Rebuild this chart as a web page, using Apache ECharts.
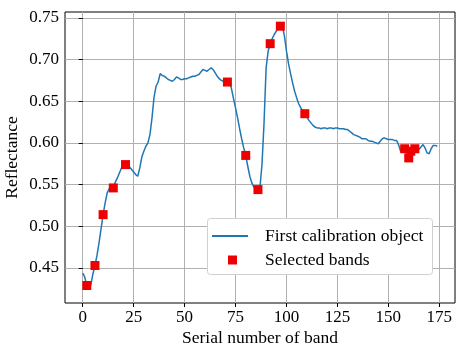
<!DOCTYPE html>
<html>
<head>
<meta charset="utf-8">
<script src="https://cdn.jsdelivr.net/npm/echarts@6/dist/echarts.min.js"></script>
<style>
  html, body { margin: 0; padding: 0; background: #fff; }
  #chart { width: 468px; height: 353px; }
</style>
</head>
<body>
<div id="chart"></div>
<script>
// reflectance of the first calibration object, band 0..174
const reflectance = [
  0.444, 0.439, 0.429, 0.427, 0.430, 0.443, 0.453, 0.465, 0.480, 0.497,
  0.514, 0.528, 0.540, 0.545, 0.546, 0.546, 0.553, 0.558, 0.564, 0.570,
  0.574, 0.574, 0.573, 0.571, 0.568, 0.565, 0.562, 0.560, 0.570, 0.583,
  0.590, 0.596, 0.600, 0.610, 0.630, 0.655, 0.668, 0.673, 0.683, 0.681,
  0.680, 0.678, 0.676, 0.675, 0.674, 0.676, 0.679, 0.678, 0.676, 0.676,
  0.677, 0.677, 0.678, 0.679, 0.680, 0.680, 0.681, 0.682, 0.685, 0.688,
  0.687, 0.686, 0.688, 0.690, 0.688, 0.684, 0.680, 0.677, 0.675, 0.674,
  0.673, 0.673, 0.673, 0.665, 0.653, 0.642, 0.630, 0.617, 0.605, 0.594,
  0.585, 0.572, 0.560, 0.552, 0.547, 0.545, 0.544, 0.547, 0.575, 0.625,
  0.690, 0.710, 0.719, 0.725, 0.730, 0.734, 0.738, 0.740, 0.740, 0.728,
  0.710, 0.695, 0.683, 0.672, 0.662, 0.654, 0.647, 0.642, 0.638, 0.635,
  0.631, 0.627, 0.624, 0.621, 0.619, 0.618, 0.618, 0.617, 0.618, 0.618,
  0.617, 0.618, 0.618, 0.617, 0.618, 0.618, 0.617, 0.617, 0.617, 0.616,
  0.616, 0.614, 0.612, 0.610, 0.609, 0.608, 0.607, 0.605, 0.605, 0.605,
  0.603, 0.602, 0.602, 0.601, 0.600, 0.599, 0.602, 0.605, 0.606, 0.605,
  0.604, 0.604, 0.604, 0.603, 0.603, 0.598, 0.590, 0.590, 0.593, 0.590,
  0.582, 0.590, 0.592, 0.593, 0.593, 0.592, 0.595, 0.598, 0.594, 0.588,
  0.587, 0.593, 0.597, 0.597, 0.596
];

// bands picked out by the selection
const selectedBands = [2, 6, 10, 15, 21, 71, 80, 86, 92, 97, 109, 158, 160, 161, 163];

const xTicks = [0, 25, 50, 75, 100, 125, 150, 175];
const yTicks = [0.45, 0.50, 0.55, 0.60, 0.65, 0.70, 0.75];

const lineData = reflectance.map((v, i) => [i, v]);
const pointData = selectedBands.map(b => [b, reflectance[b]]);

const font = 'Liberation Serif, Times New Roman, serif';
const chart = echarts.init(document.getElementById('chart'));

const legendText = { fontFamily: font, fontSize: 17.5, color: '#000' };

chart.setOption({
  animation: false,
  textStyle: { fontFamily: font },
  grid: {
    left: 65, right: 13, top: 12, bottom: 50,
    outerBoundsMode: 'none',
    containLabel: false,
    show: true, borderColor: '#000', borderWidth: 1
  },
  // legend frame
  graphic: [{
    type: 'rect', left: 207, top: 218, z: 3,
    shape: { width: 225, height: 56, r: 3 },
    style: { fill: '#fff', stroke: '#d0d0d0', lineWidth: 1 }
  }],
  legend: [
    {
      left: 212, top: 227, padding: 0,
      itemWidth: 36, itemHeight: 2, icon: 'rect',
      textStyle: Object.assign({ padding: [0, 0, 0, 12] }, legendText),
      data: ['First calibration object']
    },
    {
      left: 228, top: 251, padding: 0,
      itemWidth: 9, itemHeight: 9, icon: 'rect',
      textStyle: Object.assign({ padding: [0, 0, 0, 23] }, legendText),
      data: ['Selected bands']
    }
  ],
  xAxis: {
    type: 'value',
    min: -8.7, max: 182.7,
    axisLine: { show: false },
    axisTick: { show: true, length: 4, lineStyle: { color: '#000' }, customValues: xTicks },
    axisLabel: { customValues: xTicks, color: '#000', fontSize: 17, margin: 6, fontFamily: font },
    splitLine: { show: true, lineStyle: { color: '#b0b0b0', width: 1 } },
    name: 'Serial number of band',
    nameLocation: 'middle', nameGap: 26, nameMoveOverlap: false,
    nameTextStyle: { color: '#000', fontSize: 17.5, fontFamily: font }
  },
  yAxis: {
    type: 'value',
    min: 0.408, max: 0.757,
    axisLine: { show: false },
    axisTick: { show: true, length: 4, lineStyle: { color: '#000' }, customValues: yTicks },
    axisLabel: {
      customValues: yTicks, color: '#000', fontSize: 17, margin: 6, fontFamily: font,
      formatter: v => v.toFixed(2)
    },
    splitLine: { show: true, lineStyle: { color: '#b0b0b0', width: 1 } },
    name: 'Reflectance',
    nameLocation: 'middle', nameGap: 44, nameMoveOverlap: false,
    nameTextStyle: { color: '#000', fontSize: 17.5, fontFamily: font }
  },
  series: [
    {
      name: 'First calibration object',
      type: 'line',
      data: lineData,
      symbol: 'none',
      lineStyle: { color: '#1f77b4', width: 1.5 },
      itemStyle: { color: '#1f77b4' },
      z: 2
    },
    {
      name: 'Selected bands',
      type: 'scatter',
      data: pointData,
      symbol: 'rect',
      symbolSize: 9,
      itemStyle: { color: '#ee0000', opacity: 1 },
      z: 3
    }
  ]
});
</script>
</body>
</html>
